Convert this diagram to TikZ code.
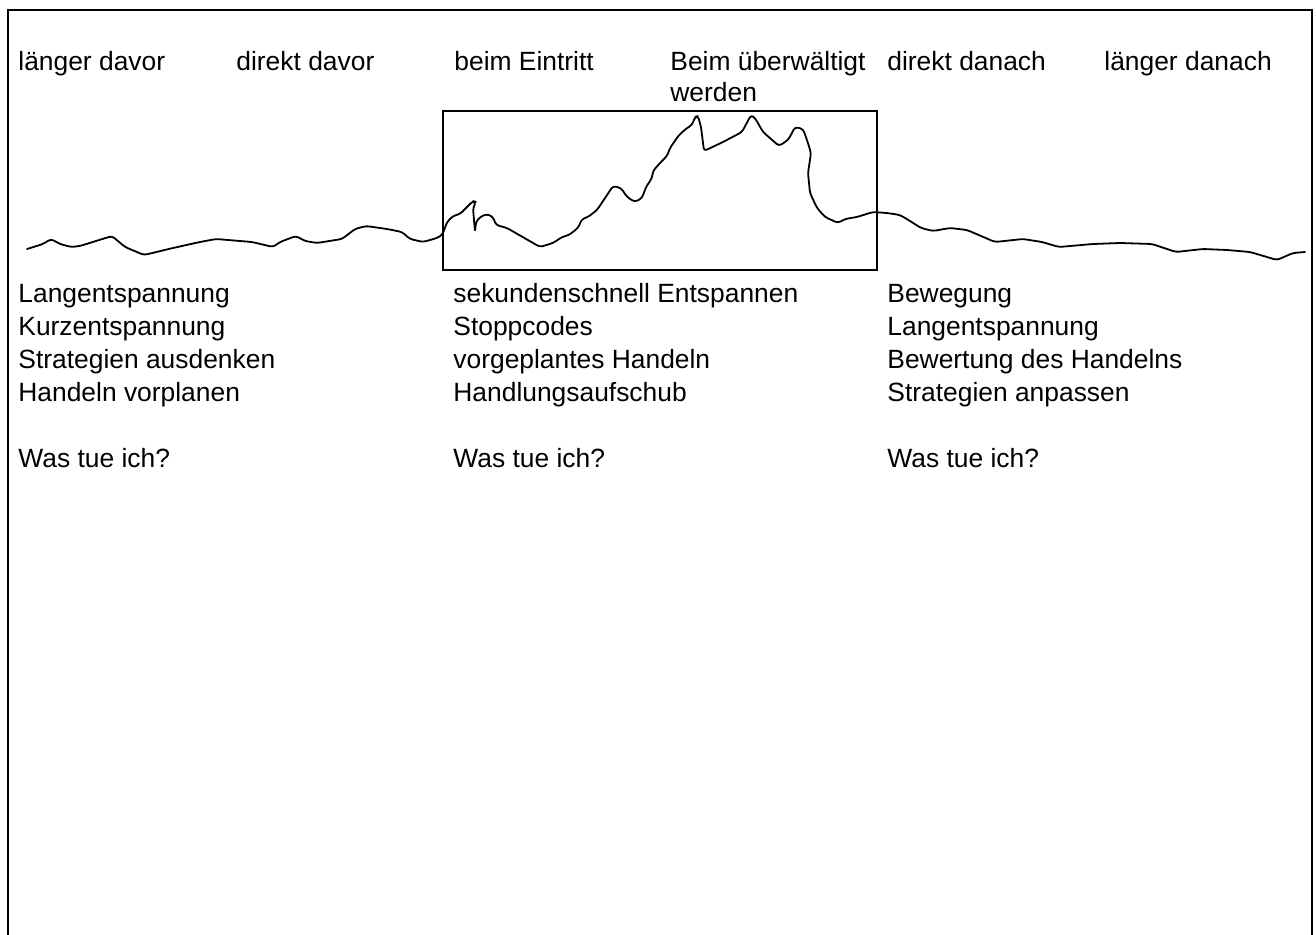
\documentclass[tikz,border=0pt]{standalone}
\usepackage{fontspec}
\setmainfont{Liberation Sans}
\begin{document}
\begin{tikzpicture}[x=0.5pt,y=-0.5pt,
  lbl/.style={anchor=base west,inner sep=0pt,align=left,
    font=\fontsize{13.2pt}{15.5pt}\selectfont},
  lst/.style={anchor=base west,inner sep=0pt,align=left,
    font=\fontsize{13.2pt}{16.5pt}\selectfont},
  frame/.style={draw=black,line width=1pt},
  wave/.style={draw=black,line width=0.9pt,line join=round,line cap=round,rounded corners=1.5pt}]
\useasboundingbox (0,0) rectangle (1316,935);

% open frame (no bottom edge)
\draw[frame] (8,935) -- (8,10) -- (1312,10) -- (1312,935);

% phase headings (multi-line nodes sit on their last baseline)
\node[lbl] (h1) at (18,71) {länger davor};
\node[lbl] (h2) at (236,71) {direkt davor};
\node[lbl] (h3) at (454,71) {beim Eintritt};
\node[lbl] (h4) at (670,102) {Beim überwältigt\\werden};
\node[lbl] (h5) at (887,71) {direkt danach};
\node[lbl] (h6) at (1104,71) {länger danach};

% highlighted phase
\draw[frame] (443,111) rectangle (877,270);

% tension curve
\draw[wave] (27,249) -- (43,244) -- (51,239) -- (60,244) -- (71,247) -- (80,246)
  -- (112,236) -- (125,247) -- (144,255) -- (173,248) -- (200,242) -- (216,239)
  -- (252,242) -- (273,247) -- (280,242) -- (296,236) -- (305,241) -- (317,243)
  -- (342,239) -- (355,229) -- (366,226) -- (387,229) -- (402,232) -- (410,239)
  -- (423,242) -- (437,238) -- (442,235) -- (445,228) -- (447,222) -- (453,216)
  -- (460,214) -- (467,207) -- (473,201) -- (476,202) -- (473,208) -- (475,232)
  -- (476,222) -- (480,217) -- (487,214) -- (493,217) -- (496,225) -- (507,228)
  -- (540,247) -- (553,243) -- (562,237) -- (569,235) -- (578,228) -- (582,219)
  -- (588,217) -- (597,210) -- (613,186) -- (621,188) -- (627,197) -- (635,202)
  -- (642,198) -- (646,187) -- (652,178) -- (653,171) -- (660,163) -- (667,156)
  -- (670,148) -- (679,135) -- (687,128) -- (692,125) -- (695,117) -- (698,116)
  -- (701,127) -- (704,151) -- (723,142) -- (742,132) -- (751,115) -- (755,118)
  -- (763,132) -- (779,146) -- (788,140) -- (792,133) -- (795,127) -- (803,129)
  -- (807,140) -- (811,153) -- (808,173) -- (810,193) -- (817,208) -- (825,217)
  -- (838,223) -- (845,219) -- (857,217) -- (873,212) -- (887,213) -- (900,215)
  -- (910,221) -- (921,228) -- (933,231) -- (950,228) -- (967,230) -- (995,242)
  -- (1023,239) -- (1042,242) -- (1059,247) -- (1093,244) -- (1120,243) -- (1152,244)
  -- (1176,252) -- (1203,249) -- (1227,250) -- (1250,252) -- (1277,260) -- (1293,253)
  -- (1305,252);

% measures per phase
\node[lst] (l1) at (18,467) {Langentspannung\\Kurzentspannung\\Strategien ausdenken\\Handeln vorplanen\\[16.5pt]Was tue ich?};
\node[lst] (l2) at (453,467) {sekundenschnell Entspannen\\Stoppcodes\\vorgeplantes Handeln\\Handlungsaufschub\\[16.5pt]Was tue ich?};
\node[lst] (l3) at (887,467) {Bewegung\\Langentspannung\\Bewertung des Handelns\\Strategien anpassen\\[16.5pt]Was tue ich?};
\end{tikzpicture}
\end{document}
